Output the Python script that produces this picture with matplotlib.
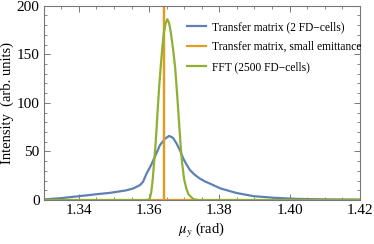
import numpy as np
import matplotlib.pyplot as plt
from matplotlib.ticker import MultipleLocator

plt.rcParams['font.family'] = ['Liberation Serif', 'DejaVu Serif']
plt.rcParams['mathtext.fontset'] = 'stix'

# Transfer matrix (2 FD-cells)
mu_tm = [1.330, 1.335, 1.340, 1.345, 1.349, 1.3535, 1.3555, 1.3574, 1.3583, 1.3593,
         1.3603, 1.3612, 1.3622, 1.3631, 1.3645, 1.3657, 1.3668, 1.3678, 1.3688,
         1.3697, 1.3706, 1.3716, 1.3730, 1.3745, 1.3760, 1.3773, 1.3803, 1.385,
         1.3898, 1.3955, 1.402, 1.410, 1.420]
int_tm = [0.7, 2, 4, 6, 7.5, 10, 12, 15.4, 19, 27.5,
          34, 41, 49, 56.6, 63, 66, 64, 58.3, 51,
          43, 37, 31, 26, 22, 19, 17, 12, 7.2,
          4, 2.4, 1.2, 0.7, 0.5]

# Transfer matrix, small emittance (delta-like spike)
mu_small = [1.330, 1.3642, 1.3642, 1.3642, 1.420]
int_small = [0, 0, 300, 0, 0]

# FFT (2500 FD-cells)
mu_fft = [1.330, 1.3590, 1.3600, 1.3602, 1.3606, 1.3610, 1.3614, 1.3618, 1.3621, 1.3624,
          1.3628, 1.3633, 1.3638, 1.3642, 1.3647, 1.3652, 1.3657, 1.3662, 1.3668,
          1.3674, 1.3680, 1.3686, 1.3690, 1.3694, 1.3700, 1.3706, 1.3712, 1.3726,
          1.3740, 1.420]
int_fft = [0, 0, 0.5, 1.7, 8, 20, 38, 55, 72, 90,
           113, 137, 158, 172, 182, 186, 182, 172, 156,
           137, 108, 76, 55, 38, 21, 12, 6, 1,
           0, 0]

fig = plt.figure(figsize=(3.74, 2.44), dpi=100)
ax = fig.add_axes([0.117, 0.180, 0.845, 0.797])

ax.plot(mu_tm, int_tm, color='#5E81B5', lw=1.6, label='Transfer matrix (2 FD\u2212cells)')
ax.plot(mu_small, int_small, color='#E19C24', lw=1.6, label='Transfer matrix, small emittance')
ax.plot(mu_fft, int_fft, color='#8FB032', lw=1.6, label='FFT (2500 FD\u2212cells)')

ax.set_xlim(1.33, 1.42)
ax.set_ylim(0, 200)
ax.xaxis.set_major_locator(MultipleLocator(0.02))
ax.xaxis.set_minor_locator(MultipleLocator(0.005))
ax.yaxis.set_major_locator(MultipleLocator(50))
ax.yaxis.set_minor_locator(MultipleLocator(10))
ax.xaxis.set_major_formatter(plt.FuncFormatter(lambda v, p: f'{v:.2f}'))

ax.tick_params(which='both', direction='in', top=True, right=True, color='#777777',
               labelsize=11, pad=3)
ax.tick_params(which='major', length=4, width=0.7)
ax.tick_params(which='minor', length=2, width=0.6)
for s in ax.spines.values():
    s.set_color('#777777')
    s.set_linewidth(0.8)

ax.set_xlabel(r'$\mu_y$ (rad)', fontsize=10.5, labelpad=3)
ax.set_ylabel('Intensity  (arb. units)', fontsize=10.5, labelpad=2)

ax.legend(loc='upper left', bbox_to_anchor=(0.44, 0.945), frameon=False, fontsize=8.3,
          handlelength=1.6, handletextpad=0.5, labelspacing=0.7, borderaxespad=0)

fig.savefig('out.png', dpi=100)
